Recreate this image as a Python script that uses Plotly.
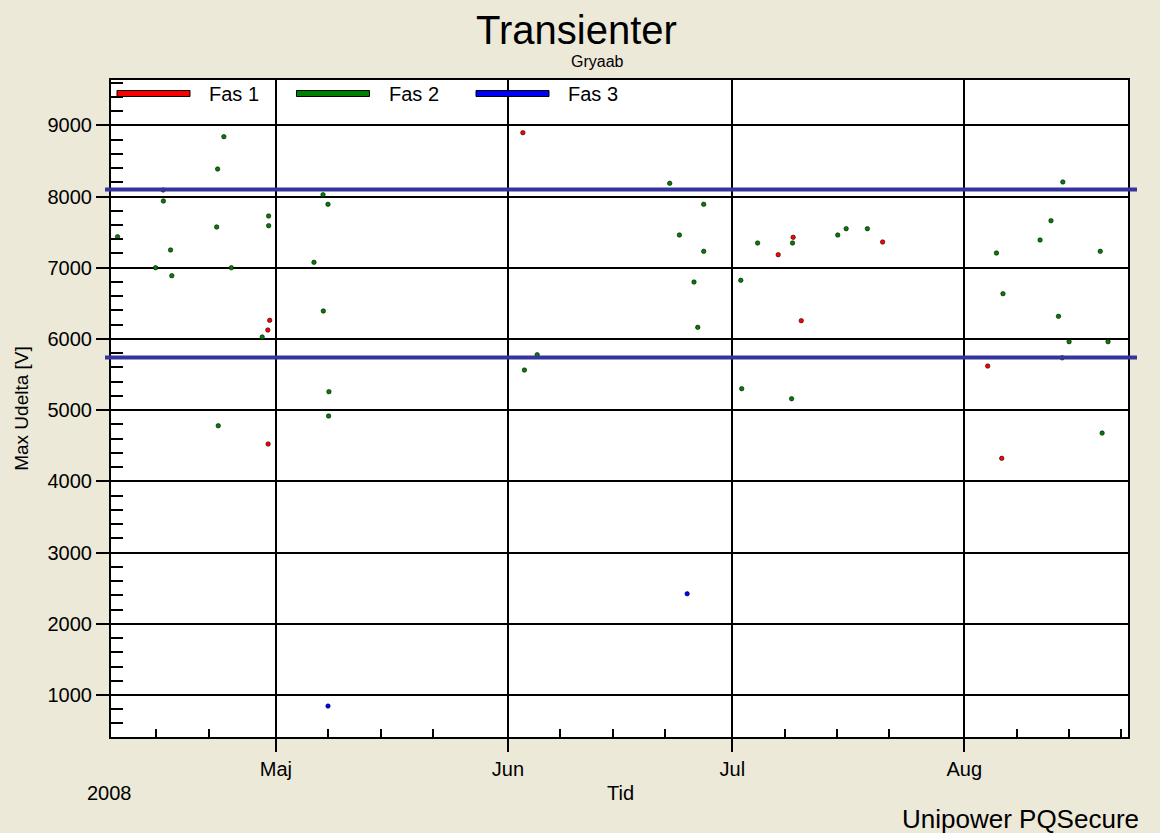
import plotly.graph_objects as go

# ---------------- data ----------------
series_names = ["Fas 1", "Fas 2", "Fas 3"]
series_colors = ["#FF0000", "#008000", "#0000FF"]

fas1_time = ["2008-04-30 04:00", "2008-04-29 22:00", "2008-04-29 23:00", "2008-06-03 00:00",
             "2008-07-09 03:00", "2008-07-07 03:00", "2008-07-10 05:00", "2008-07-21 02:00",
             "2008-08-04 03:00", "2008-08-06 00:00"]
fas1_value = [6261, 6125, 4524, 8896, 7427, 7183, 6256, 7361, 5619, 4323]

fas2_time = ["2008-04-24 01:00", "2008-04-23 05:00", "2008-04-15 22:00", "2008-04-15 23:00",
             "2008-04-30 00:30", "2008-04-30 00:40", "2008-04-23 02:00", "2008-04-09 20:00",
             "2008-04-16 22:00", "2008-04-14 22:00", "2008-04-25 01:00", "2008-04-17 02:00",
             "2008-04-29 04:00", "2008-04-23 07:00", "2008-05-07 07:00", "2008-05-07 23:00",
             "2008-05-06 02:00", "2008-05-07 08:00", "2008-05-08 02:00", "2008-05-08 01:00",
             "2008-06-04 22:00", "2008-06-03 05:00", "2008-06-22 15:00", "2008-06-27 04:00",
             "2008-06-23 22:00", "2008-06-27 04:10", "2008-07-04 09:00", "2008-07-09 01:00",
             "2008-06-25 21:00", "2008-07-02 03:00", "2008-06-26 09:00", "2008-07-02 06:00",
             "2008-07-08 22:00", "2008-07-15 02:00", "2008-07-16 05:00", "2008-07-19 01:00",
             "2008-08-05 07:00", "2008-08-14 04:00", "2008-08-12 14:00", "2008-08-11 03:00",
             "2008-08-19 04:00", "2008-08-06 04:00", "2008-08-13 14:00", "2008-08-15 00:00",
             "2008-08-20 05:00", "2008-08-14 02:00", "2008-08-19 10:00"]
fas2_value = [8840, 8386, 8091, 7937,
              7726, 7590, 7572, 7435,
              7249, 7000, 7000, 6888,
              6027, 4781, 8025, 7890,
              7076, 6392, 5259, 4917,
              5778, 5563, 8185, 7890,
              7459, 7230, 7347, 7347,
              6799, 6823, 6163, 5301,
              5160, 7459, 7548, 7548,
              7206, 8204, 7660, 7389,
              7230, 6635, 6317, 5961,
              5961, 5735, 4678]

fas3_time = ["2008-05-07 23:00", "2008-06-24 23:00"]
fas3_value = [844, 2421]

limit_values = [8100, 5740]

month_ticks = ["2008-05-01", "2008-06-01", "2008-07-01", "2008-08-01"]
month_labels = ["Maj", "Jun", "Jul", "Aug"]
week_ticks = ["2008-04-15", "2008-04-22",
              "2008-05-08", "2008-05-15", "2008-05-22",
              "2008-06-08", "2008-06-15", "2008-06-22",
              "2008-07-08", "2008-07-15", "2008-07-22",
              "2008-08-08", "2008-08-15", "2008-08-22"]
y_ticks = [1000, 2000, 3000, 4000, 5000, 6000, 7000, 8000, 9000]

x_range = ["2008-04-08 23:00", "2008-08-22 21:00"]
y_range = [410, 9636]

# ---------------- layout geometry ----------------
W, H = 1160, 833
L, R, T, B = 111, 1128, 80, 737
FONT = "Liberation Sans, Arial, sans-serif"


def px(xp):
    return (xp - L) / (R - L)


def py(yp):
    return (B - yp) / (B - T)


fig = go.Figure()

for name, color, xs, ys in zip(series_names, series_colors,
                               [fas1_time, fas2_time, fas3_time],
                               [fas1_value, fas2_value, fas3_value]):
    fig.add_trace(go.Scatter(
        x=xs, y=ys, mode="markers", name=name,
        marker=dict(size=4.5, color=color, line=dict(width=1, color="rgba(0,0,0,0.55)")),
        showlegend=False,
    ))

shapes = []
for v in limit_values:
    shapes.append(dict(type="line", xref="paper", yref="y",
                       x0=px(105), x1=px(1137), y0=v, y1=v,
                       line=dict(color="#34349C", width=4), layer="above"))

# manual legend (line samples)
for i, (name, color) in enumerate(zip(series_names, series_colors)):
    off = i * 179.5
    shapes.append(dict(type="rect", xref="paper", yref="paper",
                       x0=px(117 + off), x1=px(190 + off), y0=py(96.5), y1=py(90.5),
                       fillcolor=color, line=dict(color="black", width=1), layer="above"))

annotations = []
for i, name in enumerate(series_names):
    off = i * 179.5
    annotations.append(dict(text=name, xref="paper", yref="paper",
                            x=px(207 + off), y=py(94), xanchor="left", yanchor="middle",
                            showarrow=False, font=dict(family=FONT, size=20, color="black")))

annotations += [
    dict(text="Transienter", xref="paper", yref="paper", x=px(576), y=py(30),
         xanchor="center", yanchor="middle", showarrow=False,
         font=dict(family=FONT, size=40, color="black")),
    dict(text="Gryaab", xref="paper", yref="paper", x=px(597), y=py(61),
         xanchor="center", yanchor="middle", showarrow=False,
         font=dict(family=FONT, size=16, color="black")),
    dict(text="2008", xref="paper", yref="paper", x=px(109), y=py(793),
         xanchor="center", yanchor="middle", showarrow=False,
         font=dict(family=FONT, size=20, color="black")),
    dict(text="Tid", xref="paper", yref="paper", x=px(620), y=py(793),
         xanchor="center", yanchor="middle", showarrow=False,
         font=dict(family=FONT, size=20, color="black")),
    dict(text="Unipower PQSecure", xref="paper", yref="paper", x=px(1141), y=py(819),
         xanchor="right", yanchor="middle", showarrow=False,
         font=dict(family=FONT, size=26, color="black")),
]

fig.update_layout(
    width=W, height=H,
    margin=dict(l=L, r=W - R, t=T, b=H - B, pad=0),
    paper_bgcolor="#ECE9D8",
    plot_bgcolor="white",
    font=dict(family=FONT, size=20, color="black"),
    shapes=shapes,
    annotations=annotations,
    showlegend=False,
)

fig.update_xaxes(
    type="date", range=x_range,
    tickmode="array", tickvals=month_ticks, ticktext=month_labels,
    ticks="outside", ticklen=13, tickwidth=2, tickcolor="black",
    showgrid=True, gridcolor="black", gridwidth=2,
    showline=True, linecolor="black", linewidth=2, mirror=True,
    zeroline=False,
    tickfont=dict(family=FONT, size=20, color="black"),
    minor=dict(tickmode="array", tickvals=week_ticks, ticks="inside",
               ticklen=8, tickwidth=2, tickcolor="black", showgrid=False),
)

fig.update_yaxes(
    range=y_range,
    tickmode="array", tickvals=y_ticks,
    ticks="outside", ticklen=13, tickwidth=2, tickcolor="black",
    showgrid=True, gridcolor="black", gridwidth=2,
    showline=True, linecolor="black", linewidth=2, mirror=True,
    zeroline=False,
    tickfont=dict(family=FONT, size=20, color="black"),
    title=dict(text="Max Udelta [V]", font=dict(family=FONT, size=19, color="black"), standoff=14),
    minor=dict(dtick=200, tick0=0, ticks="inside", ticklen=12, tickwidth=2,
               tickcolor="black", showgrid=False),
)

fig.write_html("out.html")
